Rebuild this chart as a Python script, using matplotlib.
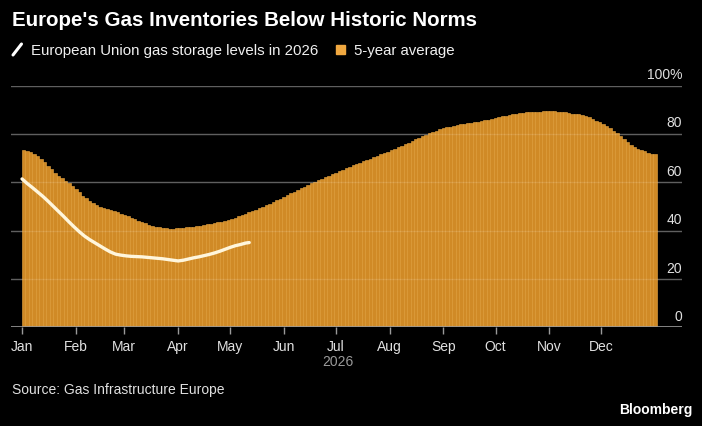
import numpy as np
import matplotlib.pyplot as plt
from matplotlib.lines import Line2D
from matplotlib.patches import Rectangle
import matplotlib.transforms as mtransforms

plt.rcParams['font.family'] = ['Liberation Sans', 'DejaVu Sans']

# 5-year average, every second day from Jan 1 (percent full)
avg = [73.5, 73.0, 72.4, 71.7, 70.7, 69.5, 68.2, 66.7, 65.3, 64.0,
       62.8, 61.7, 60.7, 59.8, 58.6, 57.2, 55.8, 54.5, 53.4, 52.4,
       51.4, 50.5, 49.8, 49.3, 48.8, 48.4, 48.0, 47.6, 47.1, 46.5,
       46.0, 45.3, 44.7, 44.1, 43.5, 43.0, 42.5, 42.1, 41.7, 41.4,
       41.1, 41.0, 40.9, 40.9, 41.0, 41.1, 41.2, 41.4, 41.5, 41.7,
       41.9, 42.1, 42.3, 42.6, 42.8, 43.1, 43.4, 43.8, 44.2, 44.6,
       45.0, 45.4, 45.9, 46.4, 47.0, 47.6, 48.1, 48.7, 49.3, 49.9,
       50.5, 51.2, 51.9, 52.6, 53.3, 54.0, 54.7, 55.4, 56.1, 56.8,
       57.5, 58.2, 58.9, 59.6, 60.3, 60.9, 61.5, 62.1, 62.7, 63.3,
       63.9, 64.5, 65.2, 65.8, 66.4, 67.0, 67.6, 68.1, 68.7, 69.3,
       69.8, 70.4, 71.0, 71.5, 72.1, 72.7, 73.3, 73.9, 74.5, 75.1,
       75.8, 76.4, 77.1, 77.8, 78.5, 79.1, 79.7, 80.3, 80.9, 81.4,
       81.9, 82.3, 82.7, 83.0, 83.3, 83.6, 83.9, 84.1, 84.4, 84.6,
       84.9, 85.1, 85.3, 85.6, 85.9, 86.2, 86.6, 86.9, 87.2, 87.6,
       87.9, 88.2, 88.4, 88.6, 88.7, 88.9, 89.0, 89.1, 89.2, 89.2,
       89.3, 89.3, 89.3, 89.3, 89.2, 89.1, 88.9, 88.7, 88.4, 88.3,
       88.1, 87.8, 87.3, 86.8, 86.2, 85.5, 84.8, 84.0, 83.2, 82.3,
       81.3, 80.2, 79.0, 77.8, 76.6, 75.5, 74.6, 73.9, 73.3, 72.8,
       72.3, 71.9, 71.5]
avg_days = np.arange(len(avg)) * 2

# 2026 storage, day of year and percent full
days_2026 = [0, 3, 6, 9, 12, 15, 18, 21, 24, 27, 30, 33, 36, 39, 42, 45,
             48, 51, 54, 57, 60, 63, 66, 69, 72, 75, 78, 81, 84, 87, 90,
             93, 96, 99, 102, 105, 108, 111, 114, 117, 120, 123, 126, 129, 131]
level_2026 = [61.4, 59.5, 57.8, 56.0, 54.2, 52.2, 50.1, 48.0, 45.9, 43.7,
              41.6, 39.6, 37.8, 36.3, 35.0, 33.7, 32.4, 31.2, 30.3, 29.9,
              29.6, 29.4, 29.3, 29.2, 29.0, 28.8, 28.6, 28.4, 28.1, 27.8,
              27.5, 27.8, 28.3, 28.8, 29.2, 29.7, 30.2, 30.8, 31.5, 32.3,
              33.1, 33.8, 34.3, 34.9, 35.1]

month_starts = [0, 31, 59, 90, 120, 151, 181, 212, 243, 273, 304, 334]
month_labels = ['Jan', 'Feb', 'Mar', 'Apr', 'May', 'Jun',
                'Jul', 'Aug', 'Sep', 'Oct', 'Nov', 'Dec']
y_ticks = [0, 20, 40, 60, 80, 100]

fig = plt.figure(figsize=(7.02, 4.27), dpi=100, facecolor='black')
ax = fig.add_axes([0.0157, 0.2307, 0.956, 0.5667], facecolor='black')

ax.bar(avg_days, avg, width=2, align='edge', color='#d08a26',
       edgecolor='#eda943', linewidth=0.4, zorder=2)
ax.plot(days_2026, level_2026, color='#fff6dc', linewidth=2.4,
        solid_capstyle='round', zorder=4)

ax.set_xlim(-6.34, 380.6)
ax.set_ylim(0, 100)

# gridlines: grey on black, faint where they cross the bars
for v in y_ticks[1:]:
    ax.axhline(v, color='#4a4a4a', linewidth=1, zorder=1)
    ax.axhline(v, color='white', alpha=0.12, linewidth=1, zorder=3)
ax.axhline(0, color='#9a9a9a', linewidth=1.2, zorder=5)

for s in ax.spines.values():
    s.set_visible(False)
ax.set_yticks([])
ax.set_xticks(month_starts)
ax.set_xticklabels(month_labels)
ax.tick_params(axis='x', colors='#9a9a9a', length=5, width=1, pad=3,
               labelcolor='#e0e0e0', labelsize=10)

offset = mtransforms.ScaledTranslation(0, 11.5 / 100, fig.dpi_scale_trans)
for v in y_ticks:
    lab = '100%' if v == 100 else str(v)
    ax.text(1.0, v, lab, transform=ax.get_yaxis_transform() + offset,
            ha='right', va='center', color='#e0e0e0', fontsize=10)

ax.text(182, -0.138, '2026', transform=ax.get_xaxis_transform(),
        ha='center', va='center', color='#9a9a9a', fontsize=10)

fig.text(12 / 702, 1 - 20 / 427, "Europe's Gas Inventories Below Historic Norms",
         color='white', fontsize=14.8, fontweight='bold', va='center', ha='left')

fig.add_artist(Line2D([13 / 702, 21.5 / 702], [1 - 56 / 427, 1 - 45 / 427],
                      color='white', linewidth=2.2, solid_capstyle='round'))
fig.text(31 / 702, 1 - 50.5 / 427, 'European Union gas storage levels in 2026',
         color='#f0f0f0', fontsize=10.8, va='center', ha='left')
fig.add_artist(Rectangle((336 / 702, 1 - 55 / 427), 9 / 702, 9 / 427,
                         color='#f0a840', transform=fig.transFigure))
fig.text(354 / 702, 1 - 50.5 / 427, '5-year average',
         color='#f0f0f0', fontsize=10.8, va='center', ha='left')

fig.text(12 / 702, 1 - 390 / 427, 'Source: Gas Infrastructure Europe',
         color='#e0e0e0', fontsize=10, va='center', ha='left')
fig.text(692 / 702, 1 - 410 / 427, 'Bloomberg',
         color='white', fontsize=10, fontweight='bold', va='center', ha='right')

fig.savefig('out.png', dpi=100, facecolor='black')
